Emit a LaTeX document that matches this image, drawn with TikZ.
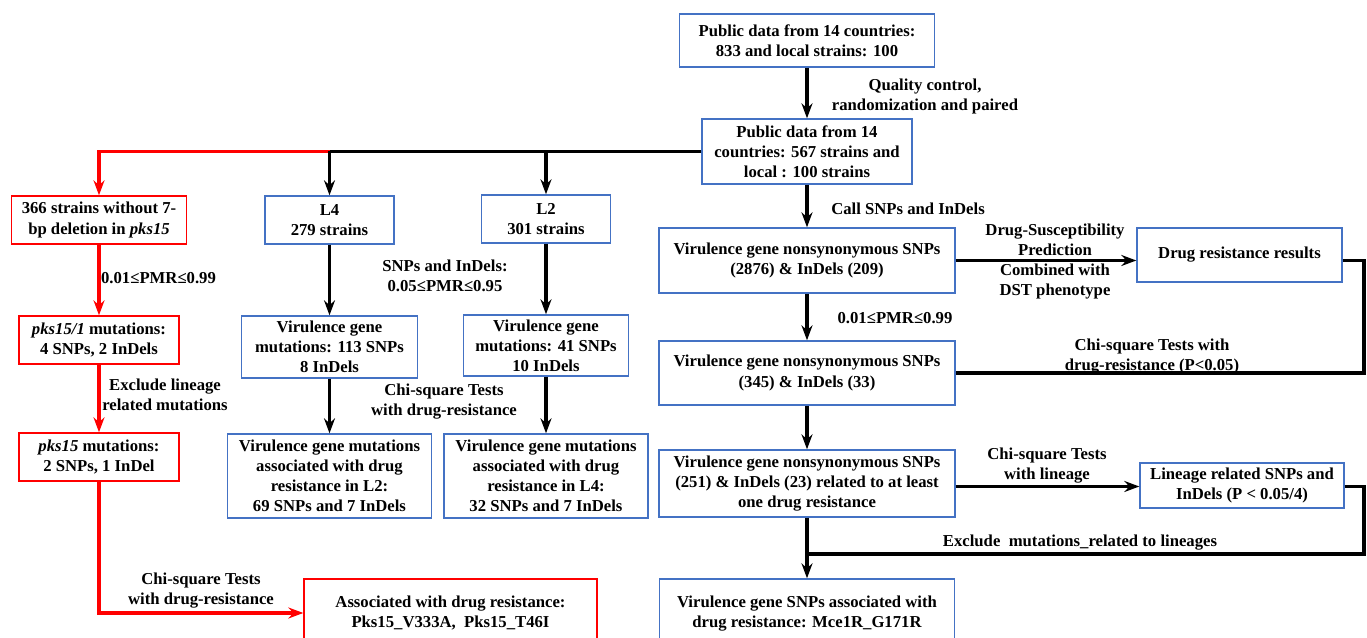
\documentclass[tikz,border=0pt]{standalone}
\usepackage{fontspec}
\setmainfont{Liberation Serif}
\usetikzlibrary{arrows.meta}

\definecolor{boxblue}{RGB}{68,114,196}
\definecolor{flowred}{RGB}{255,0,0}
\newcommand{\txtfont}{\fontsize{9.5}{11.4}\selectfont\bfseries}

\tikzset{
  box/.style={draw,line width=0.8pt,align=center,inner sep=1pt,font=\txtfont},
  bluebox/.style={box,draw=boxblue},
  redbox/.style={box,draw=flowred},
  lbl/.style={align=center,inner sep=0pt,font=\txtfont},
  link/.style={line width=2pt},
  flow/.style={link,-{Stealth[length=0.3cm,width=0.22cm,inset=0.1cm]}},
  redflow/.style={flow,draw=flowred}
}

\begin{document}
\begin{tikzpicture}[x=0.02cm,y=-0.02cm]
  \useasboundingbox (0,0) rectangle (1367,638);
  \clip (0,0) rectangle (1367,638);

  % right column
  \node[bluebox,minimum width=5.09cm,minimum height=1.06cm] (src) at (807,40.5) {Public data from 14 countries:\\833 and local strains: 100};
  \node[bluebox,minimum width=4.2cm,minimum height=1.3cm] (data) at (807,151.5) {Public data from 14\\countries: 567 strains and\\local : 100 strains};
  \node[bluebox,minimum width=5.92cm,minimum height=1.3cm] (vg1) at (807,260.5) {Virulence gene nonsynonymous SNPs\\(2876) \& InDels (209)};
  \node[bluebox,minimum width=4.1cm,minimum height=1.08cm] (drr) at (1239.5,255) {Drug resistance results};
  \node[bluebox,minimum width=5.92cm,minimum height=1.28cm] (vg2) at (807,373) {Virulence gene nonsynonymous SNPs\\(345) \& InDels (33)};
  \node[bluebox,minimum width=5.92cm,minimum height=1.34cm] (vg3) at (807,483.5) {Virulence gene nonsynonymous SNPs\\(251) \& InDels (23) related to at least\\one drug resistance};
  \node[bluebox,minimum width=4.08cm,minimum height=0.9cm] (lrs) at (1242,485.5) {Lineage related SNPs and\\InDels (P < 0.05/4)};
  \node[bluebox,minimum width=5.9cm,minimum height=1.38cm] (final) at (807,613.5) {Virulence gene SNPs associated with\\drug resistance: Mce1R\_G171R};

  % lineage columns
  \node[bluebox,minimum width=2.58cm,minimum height=0.96cm] (L4) at (329.5,220) {L4\\279 strains};
  \node[bluebox,minimum width=2.58cm,minimum height=0.96cm] (L2) at (546,219) {L2\\301 strains};
  \node[bluebox,minimum width=3.52cm,minimum height=1.24cm] (vgL4) at (329.5,347) {Virulence gene\\mutations: 113 SNPs\\8 InDels};
  \node[bluebox,minimum width=3.3cm,minimum height=1.22cm] (vgL2) at (546,345.5) {Virulence gene\\mutations: 41 SNPs\\10 InDels};
  \node[bluebox,minimum width=4.08cm,minimum height=1.68cm] (asL4) at (329.5,476) {Virulence gene mutations\\associated with drug\\resistance in L2:\\69 SNPs and 7 InDels};
  \node[bluebox,minimum width=4.08cm,minimum height=1.68cm] (asL2) at (546,476) {Virulence gene mutations\\associated with drug\\resistance in L4:\\32 SNPs and 7 InDels};

  % pks15 column
  \node[redbox,minimum width=3.5cm,minimum height=0.96cm] (s366) at (99,220) {366 strains without 7-\\bp deletion in \textit{pks15}};
  \node[redbox,minimum width=3.2cm,minimum height=0.96cm] (pks151) at (99,340) {\textit{pks15/1} mutations:\\4 SNPs, 2 InDels};
  \node[redbox,minimum width=3.2cm,minimum height=0.96cm] (pks15) at (99,457) {\textit{pks15} mutations:\\2 SNPs, 1 InDel};
  \node[redbox,minimum width=5.86cm,minimum height=1.36cm] (assoc) at (450.5,613) {Associated with drug resistance:\\Pks15\_V333A,\ \ Pks15\_T46I};

  % labels
  \node[lbl] (qc) at (925,96.5) {Quality control,\\randomization and paired};
  \node[lbl] (call) at (908,209) {Call SNPs and InDels};
  \node[lbl] (dsp) at (1055,261.5) {Drug-Susceptibility\\Prediction\\Combined with\\DST phenotype};
  \node[lbl] (pmrR) at (895,318) {0.01≤PMR≤0.99};
  \node[lbl] (chiR) at (1152,356.5) {Chi-square Tests with\\drug-resistance (P<0.05)};
  \node[lbl] (chiLin) at (1047,465.5) {Chi-square Tests\\with lineage};
  \node[lbl] (excl) at (1080,543) {Exclude\ \ mutations\_related to lineages};
  \node[lbl] (pmrL) at (158.5,278) {0.01≤PMR≤0.99};
  \node[lbl] (exlin) at (165,395) {Exclude lineage\\related mutations};
  \node[lbl] (pmrM) at (445,276) {SNPs and InDels:\\0.05≤PMR≤0.95};
  \node[lbl] (chiM) at (444,402) {Chi-square Tests\\with drug-resistance};
  \node[lbl] (chiP) at (201,590.5) {Chi-square Tests\\with drug-resistance};

  \coordinate (rr) at (1364,0);
  \coordinate (jn) at (807,554);

  % right column flow
  \draw[flow] (src) -- (data);
  \draw[flow] (data) -- (vg1);
  \draw[flow] (vg1) -- (vg2);
  \draw[flow] (vg2) -- (vg3);
  \draw[flow] (vg3) -- (final);
  \draw[flow] (vg1.east) -- (vg1.east -| drr.west);
  \draw[link] (vg1.east -| drr.east) -- (rr |- vg1.east) -- (rr |- vg2.east) -- (vg2.east);
  \draw[flow] (vg3.east) ++(0,3) -- (lrs.west |- 0,486.5);
  \draw[link] (lrs.east |- 0,486.5) -- (rr |- 0,486.5) -- (rr |- jn) -- (jn);

  % split to lineages
  \draw[redflow] (L4 |- data.west) -| (s366);
  \draw[link] (data.west) -- (L4 |- data.west);
  \draw[flow] (L4 |- data.west) -- (L4);
  \draw[flow] (L2 |- data.west) -- (L2);
  \draw[flow] (L4) -- (vgL4);
  \draw[flow] (vgL4) -- (asL4);
  \draw[flow] (L2) -- (vgL2);
  \draw[flow] (vgL2) -- (asL2);

  % pks15 flow
  \draw[redflow] (s366) -- (pks151);
  \draw[redflow] (pks151) -- (pks15);
  \draw[redflow] (pks15.south) |- (assoc.west);

\end{tikzpicture}
\end{document}
